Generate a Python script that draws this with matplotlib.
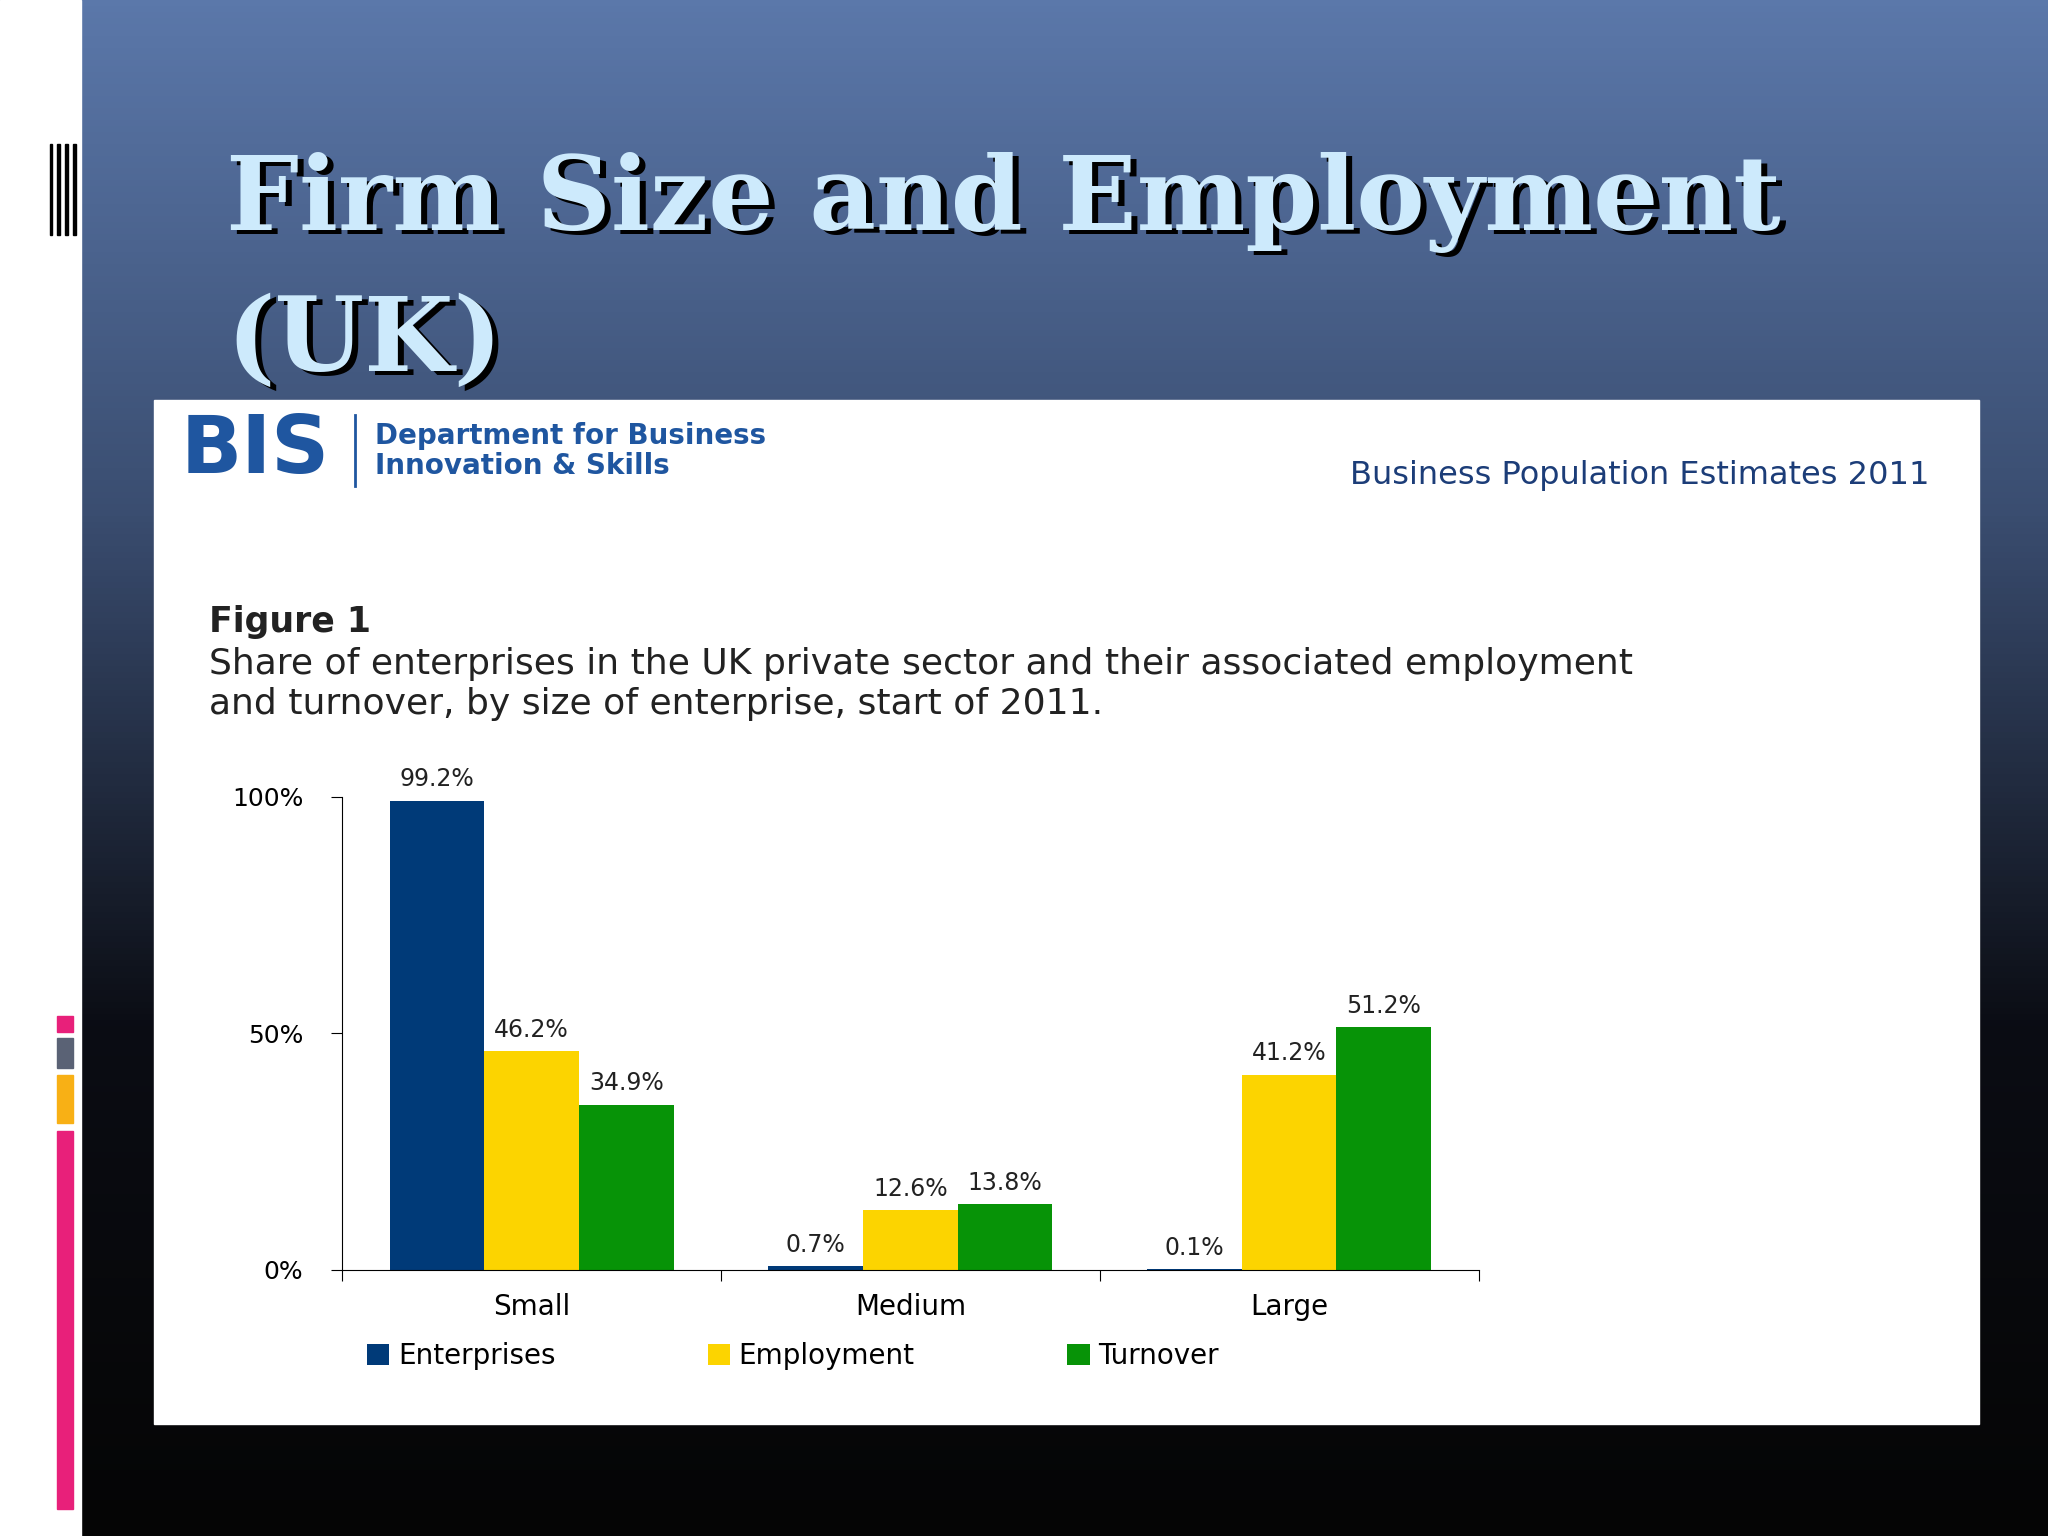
import matplotlib.pyplot as plt
import numpy as np
from matplotlib.patches import Rectangle

groups = ["Small", "Medium", "Large"]
series = ["Enterprises", "Employment", "Turnover"]
values = {
    "Enterprises": [99.2, 0.7, 0.1],
    "Employment": [46.2, 12.6, 41.2],
    "Turnover": [34.9, 13.8, 51.2],
}
colors = {"Enterprises": "#003a78", "Employment": "#fcd400", "Turnover": "#079307"}

W, H = 1568, 1176
def fx(x): return x / W
def fy(y): return 1 - y / H

fig = plt.figure(figsize=(20.48, 15.36), dpi=100)

# background gradient
bg = fig.add_axes([0, 0, 1, 1])
grad = np.linspace(0, 1, 256)[:, None]
cmap = plt.matplotlib.colors.LinearSegmentedColormap.from_list("bg", ["#5b78aa", "#3a4d70", "#0b0d14", "#050505"])
bg.imshow(grad, aspect="auto", cmap=cmap, extent=[0, 1, 0, 1], origin="upper")
bg.add_patch(Rectangle((0, 0), fx(62), 1, color="white"))
for xx in [38, 44, 50, 56]:
    bg.add_patch(Rectangle((fx(xx), fy(180)), fx(2), 70 / H, color="black"))
for y0, y1, c in [(778, 790, "#e8207a"), (795, 818, "#5a6275"), (823, 860, "#f8b015"), (866, 1155, "#e8207a")]:
    bg.add_patch(Rectangle((fx(44), fy(y1)), fx(12), (y1 - y0) / H, color=c))
bg.add_patch(Rectangle((fx(118), fy(1090)), fx(1515 - 118), (1090 - 306) / H, color="white"))
bg.set_xlim(0, 1); bg.set_ylim(0, 1); bg.axis("off")

for line, y in [("Firm Size and Employment", 155), ("(UK)", 262)]:
    fig.text(fx(178), fy(y + 3), line, fontsize=74, family="DejaVu Serif", weight="bold",
             color="black", va="center")
    fig.text(fx(173), fy(y), line, fontsize=74, family="DejaVu Serif", weight="bold",
             color="#cdeafc", va="center")

fig.text(fx(138), fy(345), "BIS", fontsize=58, color="#1f56a0", va="center", weight="bold")
fig.add_artist(plt.Line2D([fx(272), fx(272)], [fy(318), fy(372)], color="#1f56a0", lw=2))
fig.text(fx(287), fy(334), "Department for Business", fontsize=20, color="#1f56a0", weight="bold", va="center")
fig.text(fx(287), fy(357), "Innovation & Skills", fontsize=20, color="#1f56a0", weight="bold", va="center")
fig.text(fx(1477), fy(364), "Business Population Estimates 2011", fontsize=23, color="#1c3d78", ha="right", va="center")

fig.text(fx(160), fy(476), "Figure 1", fontsize=25, weight="bold", color="#222", va="center")
fig.text(fx(160), fy(508), "Share of enterprises in the UK private sector and their associated employment",
         fontsize=26, color="#222", va="center")
fig.text(fx(160), fy(539), "and turnover, by size of enterprise, start of 2011.", fontsize=26, color="#222", va="center")

ax = fig.add_axes([fx(262), fy(972), fx(1132 - 262), (972 - 610) / H])
x = np.arange(len(groups))
bw = 0.25
for i, s in enumerate(series):
    pos = x + (i - 1) * bw
    ax.bar(pos, values[s], bw, color=colors[s], label=s)
    for p, v in zip(pos, values[s]):
        ax.text(p, v + 2, f"{v}%", ha="center", va="bottom", fontsize=17, color="#222")
ax.set_xlim(-0.5, 2.5)
ax.set_ylim(0, 100)
ax.set_facecolor("none")
ax.set_yticks([0, 50, 100])
ax.set_yticklabels(["0%", "50%", "100%"], fontsize=18)
ax.set_xticks([-0.5, 0.5, 1.5, 2.5])
ax.set_xticklabels([])
ax.tick_params(axis="x", direction="out", length=8)
ax.tick_params(axis="y", direction="out", length=8, pad=20)
for g, gx in zip(groups, x):
    ax.text(gx, -5, g, ha="center", va="top", fontsize=20, transform=ax.transData)
for sp in ["top", "right"]:
    ax.spines[sp].set_visible(False)
ax.legend(loc="upper left", bbox_to_anchor=(0.0, -0.1), ncol=3, frameon=False, fontsize=20,
          handlelength=0.8, handleheight=0.8, handletextpad=0.3, columnspacing=5.5)

fig.savefig("out.png", dpi=100)
